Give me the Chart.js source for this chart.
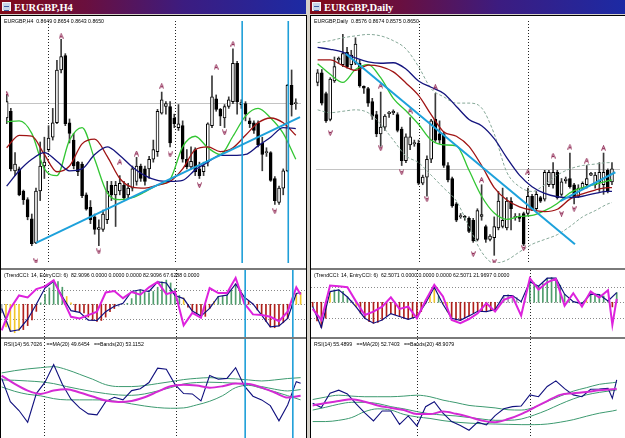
<!DOCTYPE html>
<html>
<head>
<meta charset="utf-8">
<script src="https://cdn.jsdelivr.net/npm/chart.js@4.4.1/dist/chart.umd.min.js"></script>
<style>
  body { margin: 0; width: 625px; height: 438px; overflow: hidden; position: relative; background: #d4d0c8; }
  .title { position: absolute; top: 0; height: 14px; color: #fff; font: bold 10.5px "Liberation Serif", serif; line-height: 15px; padding-left: 14px; box-sizing: border-box;
           background: linear-gradient(90deg, #800a18 0%, #6a0f3e 28%, #3c1c80 60%, #1c2aa4 100%); }
  .icon { position: absolute; left: 2px; top: 2px; width: 9px; height: 9px; background: #c8d6e6; border: 1px solid #f4f4f4; box-sizing: border-box; }
  .icon::after { content: ""; position: absolute; left: 1px; top: 3px; width: 5px; height: 3px; border-top: 1px solid #4060a0; border-bottom: 1px solid #4060a0; }
  .pane { position: absolute; background: #fff; overflow: hidden; }
  .pane canvas { position: absolute; left: 0; top: 0; }
  .lbl { position: absolute; left: 3px; top: 2px; font: 5.2px "Liberation Sans", Arial, sans-serif; color: #000; white-space: pre; z-index: 2; }
  .rule { position: absolute; background: #000; }
  .sep { position: absolute; background: #7a7a7a; }
</style>
</head>
<body>
<div class="title" style="left:0;width:306px"><div class="icon"></div>EURGBP,H4</div>
<div class="title" style="left:310px;width:315px"><div class="icon"></div>EURGBP,Daily</div>
<div class="rule" style="left:0;top:15px;width:307px;height:1px"></div>
<div class="rule" style="left:310px;top:15px;width:315px;height:1px"></div>
<div class="rule" style="left:0;top:15px;width:1px;height:423px"></div>
<div class="rule" style="left:306px;top:15px;width:1px;height:423px"></div>
<div class="rule" style="left:310px;top:15px;width:1px;height:423px"></div>
<div class="sep" style="left:1px;top:268px;width:305px;height:2px"></div>
<div class="sep" style="left:1px;top:337px;width:305px;height:2px"></div>
<div class="sep" style="left:311px;top:268px;width:314px;height:2px"></div>
<div class="sep" style="left:311px;top:337px;width:314px;height:2px"></div>
<script>
// ---------- EURGBP H4 (left) ----------
const leftOpen  = [.8634,.8641,.8579,.8581,.8558,.8549,.8529,.8504,.8558,.8584, .8601,.8614,.8629,.8684,.8699,.8629,.8611,.8588,.8586,.8554,
                   .8541,.8531,.8518,.8518,.8528,.8564,.8554,.8558,.8564,.8554, .8561,.8568,.8584,.8581,.8581,.8591,.8599,.8639,.8646,.8646,
                   .8634,.8624,.8626,.8591,.8583,.8601,.8581,.8578,.8588,.8626, .8654,.8643,.8634,.8646,.8651,.8691,.8648,.8649,.8631,.8629,
                   .8629,.8608,.8598,.8598,.8571,.8546,.8561,.8579,.8668,.8649];
const leftHigh  = [.8658,.8644,.8598,.8583,.8559,.8551,.8534,.8561,.8609,.8614, .8626,.8644,.8694,.8716,.8701,.8633,.8618,.8589,.8588,.8556,
                   .8548,.8534,.8528,.8538,.8568,.8568,.8568,.8574,.8568,.8566, .8584,.8593,.8586,.8584,.8594,.8611,.8643,.8661,.8651,.8651,
                   .8638,.8648,.8631,.8601,.8604,.8603,.8588,.8588,.8629,.8678, .8658,.8644,.8648,.8656,.8706,.8693,.8653,.8651,.8634,.8631,
                   .8631,.8614,.8603,.8599,.8573,.8563,.8581,.8669,.8684,.8654];
const leftLow   = [.8628,.8579,.8574,.8553,.8544,.8528,.8501,.8503,.8548,.8571, .8599,.8611,.8628,.8681,.8626,.8608,.8581,.8574,.8551,.8538,
                   .8524,.8513,.8501,.8516,.8524,.8548,.8521,.8554,.8549,.8551, .8558,.8564,.8568,.8564,.8571,.8588,.8594,.8638,.8638,.8604,
                   .8624,.8621,.8588,.8581,.8581,.8574,.8571,.8574,.8584,.8624, .8641,.8626,.8624,.8644,.8649,.8638,.8644,.8631,.8624,.8618,
                   .8604,.8579,.8594,.8568,.8544,.8544,.8554,.8578,.8636,.8643];
const leftClose = [.8651,.8581,.8586,.8554,.8549,.8531,.8503,.8558,.8584,.8588, .8613,.8629,.8684,.8698,.8628,.8618,.8584,.8578,.8553,.8539,
                   .8528,.8518,.8520,.8534,.8558,.8554,.8564,.8566,.8551,.8561, .8581,.8584,.8571,.8568,.8591,.8601,.8641,.8653,.8649,.8608,
                   .8628,.8628,.8591,.8583,.8589,.8578,.8574,.8584,.8628,.8656, .8643,.8636,.8646,.8653,.8691,.8651,.8650,.8638,.8628,.8621,
                   .8606,.8596,.8599,.8569,.8548,.8561,.8579,.8668,.8648,.8650];

const leftMaX     = [0,3,6,9,12,15,18,21,24,27,30,33,36,39,42,45,48,51,54,57,60,63,66,69];
const leftMaGreen = [.8630,.8631,.8618,.8581,.8574,.8611,.8624,.8591,.8556,.8549,.8551,.8557,.8564,.8570,.8604,.8615,.8603,.8596,.8615,.8636,.8644,.8634,.8618,.8591];
const leftMaRed   = [.8603,.8616,.8615,.8596,.8578,.8584,.8607,.8612,.8594,.8571,.8562,.8561,.8564,.8568,.8581,.8601,.8604,.8599,.8603,.8616,.8629,.8634,.8629,.8616];
const leftMaNavy  = [.8563,.8579,.8591,.8598,.8589,.8579,.8581,.8596,.8604,.8595,.8583,.8574,.8569,.8568,.8569,.8580,.8588,.8595,.8595,.8596,.8605,.8614,.8624,.8623];

const leftTrendX = [7, 70];
const leftTrendY = [.8504, .8635];
const leftFracUpX = [0, 13, 27, 31, 37, 50, 54];
const leftFracUpY = [.8659, .8719, .8588, .8597, .8667, .8687, .8711];
const leftFracDnX = [7, 22, 39, 46, 52, 64];
const leftFracDnY = [.8485, .8495, .8596, .8564, .8619, .8537];
const leftBid = .8650;
const leftCyan = [56.2, 67.2];
const leftGrid = [9.85, 40.2];

const leftCciX = [0,2,4,6,8,10,12,14,16,18,20,22,24,26,28,30,32,34,36,38,40,42,44,46,48,50,52,54,56,58,60,62,64,66,68,69];
const leftTrendCci = [-30,-190,-179,-105,0,114,162,55,-45,-57,-112,-114,-52,-14,7,90,102,90,157,150,62,40,-48,-83,-29,55,64,143,50,2,-76,-159,-152,-100,76,83];
const leftEntryCci = [-183,-29,62,48,107,126,169,43,-88,-100,-76,-52,83,93,43,86,67,119,157,71,90,-148,-60,-95,114,79,79,186,7,-71,-76,-88,-119,-52,119,68];
const leftHist = [-60,-160,-190,-200,-185,-178,-150,-110,-50,10, 70,115,150,160,120,55,10,-45,-55,-60,
                  -90,-112,-120,-114,-90,-52,-30,-14,0,7, 40,90,100,95,80,90,120,157,170,150,
                  110,62,45,-20,-48,-65,-83,-85,-29,20, 55,58,64,100,143,100,50,20,2,-40,
                  -76,-120,-159,-165,-152,-130,-100,-30,76,82.9];
const leftHistState = "nffffdddduuuuuuffddddddddddnnuuuuuuuuuuuuufddddddfuuuuuunddddddddddnff";

const leftRsiX = leftCciX;
const leftRsi = [59.5,46.2,41.1,34.4,50.8,57.3,67.4,56.1,47.6,42.6,39.2,38.6,46.2,48.7,47.2,52.5,53.6,57.1,65.3,64.7,56.1,50.8,50.6,46.6,61.1,59.0,59.5,65.6,55.2,49.3,47.2,43.9,35.2,44.3,57.6,56.7];
const leftRsiMa   = [61.1,56.3,52.5,50.6,52.5,53.3,51.4,49.1,46.8,46.0,46.6,48.7,51.9,55.0,55.9,55.4,54.2,55.0,56.5,56.3,54.2,51.4,48.5,49.6];
const leftBandUp  = [62.6,63.9,64.9,65.6,66.2,64.5,61.8,59.0,55.9,54.8,54.8,55.4,56.5,57.6,58.8,59.5,59.9,59.5,59.2,58.6,58.0,58.6,59.4,59.9];
const leftBandMid = [58.6,58.4,58.0,57.5,56.5,54.8,53.3,51.9,50.8,50.0,49.8,50.6,52.3,54.2,56.3,57.1,57.3,57.1,56.7,55.9,54.8,53.3,52.3,53.1];
const leftBandLow = [54.6,52.1,50.4,49.5,47.9,47.2,47.2,47.2,47.0,46.2,44.9,43.7,42.8,42.4,42.6,44.3,46.4,49.6,54.2,55.5,53.8,51.9,49.6,47.2];

// ---------- EURGBP Daily (right) ----------
const rightOpen  = [.8830,.8850,.8807,.8753,.8833,.8877,.8867,.8893,.8867,.8870, .8870,.8822,.8817,.8790,.8763,.8723,.8737,.8765,.8767,.8763,
                    .8733,.8667,.8700,.8702,.8703,.8620,.8633,.8670,.8753,.8723, .8723,.8657,.8630,.8577,.8550,.8551,.8547,.8543,.8503,.8551,
                    .8530,.8503,.8507,.8527,.8530,.8527,.8583,.8549,.8551,.8557, .8557,.8593,.8567,.8590,.8587,.8617,.8617,.8643,.8597,.8625,
                    .8630,.8617,.8593,.8610,.8617,.8637,.8617,.8623,.8617,.8647, .8623];
const rightHigh  = [.8857,.8857,.8810,.8840,.8883,.8883,.8930,.8903,.8897,.8923, .8877,.8823,.8820,.8797,.8770,.8810,.8763,.8770,.8773,.8767,
                    .8737,.8723,.8757,.8710,.8710,.8637,.8677,.8753,.8807,.8750, .8727,.8663,.8633,.8580,.8557,.8553,.8550,.8547,.8567,.8617,
                    .8533,.8513,.8550,.8603,.8610,.8590,.8590,.8557,.8557,.8560, .8610,.8597,.8603,.8593,.8647,.8647,.8663,.8647,.8630,.8633,
                    .8683,.8620,.8617,.8623,.8657,.8643,.8643,.8663,.8683,.8650, .8663];
const rightLow   = [.8823,.8783,.8747,.8750,.8830,.8870,.8863,.8860,.8857,.8867, .8820,.8807,.8780,.8753,.8717,.8697,.8730,.8757,.8763,.8727,
                    .8657,.8663,.8690,.8697,.8617,.8617,.8593,.8663,.8707,.8703, .8653,.8623,.8570,.8540,.8547,.8543,.8517,.8497,.8500,.8543,
                    .8497,.8500,.8470,.8523,.8527,.8523,.8523,.8543,.8540,.8490, .8553,.8563,.8563,.8580,.8583,.8613,.8610,.8587,.8593,.8620,
                    .8610,.8577,.8590,.8607,.8610,.8636,.8610,.8603,.8597,.8600, .8617];
const rightClose = [.8850,.8787,.8750,.8837,.8863,.8880,.8890,.8863,.8887,.8910, .8823,.8818,.8787,.8760,.8723,.8737,.8760,.8768,.8770,.8730,
                    .8667,.8717,.8717,.8705,.8620,.8633,.8670,.8750,.8710,.8710, .8657,.8627,.8573,.8543,.8553,.8549,.8520,.8500,.8563,.8555,
                    .8503,.8510,.8530,.8583,.8543,.8583,.8567,.8551,.8547,.8493, .8593,.8567,.8597,.8583,.8643,.8643,.8643,.8590,.8623,.8629,
                    .8613,.8590,.8610,.8620,.8630,.8641,.8637,.8643,.8643,.8603, .8650];

const rightMaX     = [0,3,6,9,12,15,18,21,24,27,30,33,36,39,42,45,48,51,54,57,60,63,66,69,70];
const rightMaNavy  = [.8903,.8899,.8893,.8881,.8873,.8870,.8871,.8858,.8833,.8820,.8807,.8780,.8753,.8740,.8713,.8673,.8637,.8613,.8599,.8592,.8590,.8593,.8599,.8603,.8603];
const rightMaRed   = [.8877,.8877,.8865,.8855,.8866,.8863,.8852,.8829,.8803,.8763,.8727,.8718,.8697,.8657,.8611,.8585,.8571,.8564,.8561,.8566,.8587,.8598,.8606,.8611,.8611];
const rightMaGreen = [.8869,.8847,.8830,.8857,.8867,.8840,.8797,.8771,.8743,.8710,.8700,.8698,.8647,.8593,.8558,.8545,.8551,.8553,.8563,.8578,.8600,.8611,.8618,.8625,.8627];
const rightBbUp    = [.8913,.8917,.8923,.8927,.8930,.8927,.8917,.8900,.8863,.8817,.8800,.8787,.8787,.8777,.8723,.8643,.8613,.8603,.8617,.8637,.8650,.8657,.8660,.8663,.8663];
const rightBbLow   = [.8773,.8767,.8770,.8773,.8767,.8743,.8710,.8677,.8663,.8637,.8610,.8583,.8530,.8477,.8453,.8460,.8477,.8493,.8503,.8513,.8530,.8550,.8563,.8577,.8580];

const rightTrendX  = [6.7, 61.2];
const rightTrendY  = [.8890, .8493];
const rightTrend2X = [57.7, 70.8];
const rightTrend2Y = [.8583, .8643];
const rightFracUpX = [15, 22, 28, 39, 50, 56, 60, 64, 68];
const rightFracUpY = [.8823, .8771, .8820, .8627, .8643, .8677, .8695, .8667, .8693];
const rightFracDnX = [3, 15, 20, 26, 37, 42, 49, 58, 61];
const rightFracDnY = [.8725, .8693, .8643, .8587, .8473, .8457, .8485, .8557, .8567];
const rightBid = .8650;
const rightGrid = [24.1, 50.0];

const rightCciX   = [0,2,4,6,8,10,12,14,16,18,20,22,24,26,28,30,32,34,36,38,40,42,44,46,48,50,52,54,56,58,60,62,64,66,68,70];
const rightTrendCci = [-28,-163,69,80,34,-30,-103,-135,-114,-73,-92,-110,-92,-6,97,-13,-103,-116,-88,-58,-60,-47,43,43,4,133,103,155,155,52,4,-9,52,49,9,62.5];
const rightEntryX = [0,2,4,6,8,10,12,14,16,18,20,22,24,26,28,30,32,34,36,38,40,42,44,46,48,50,52,54,56,58,60,62,64,66,68,69,70];
const rightEntryCci = [-43,-114,108,103,97,4,-82,-60,-28,32,-43,-28,-103,11,112,37,-114,-135,-108,-71,-6,-60,15,37,-86,155,82,129,151,-22,58,-28,69,30,77,-146,22];
const rightHist = [-28,-120,-163,-103,69,80,80,70,34,10, -30,-70,-103,-125,-135,-130,-114,-90,-73,-80,
                   -92,-105,-110,-100,-92,-60,-6,60,97,40, -13,-60,-103,-116,-116,-100,-88,-70,-58,-55,
                   -60,-55,-47,0,43,50,43,30,4,4, 133,125,103,120,155,160,155,110,52,20,
                   4,-5,-9,20,52,55,49,40,9,-30, 62.5];
const rightHistState = "ddddfuuuunfddddddddddddddddffuffdddddddddddnnnnnnnuuuuuuuuuuuuufuuuuudu";

const rightRsiX = rightEntryX;
const rightRsi = [48.0,46.6,51.2,52.2,51.0,47.8,44.9,42.3,45.5,45.5,41.2,43.9,40.7,46.9,48.5,44.8,42.1,40.8,39.3,41.9,41.0,44.0,46.2,46.9,47.1,50.7,50.1,53.4,55.2,52.7,50.7,50.1,52.5,52.6,52.8,49.6,55.5];
const rightRsiMa   = [47.3,48.1,48.7,49.3,48.5,47.3,46.5,45.8,44.5,44.5,45.3,44.6,43.6,42.4,41.9,42.9,44.5,46.6,48.7,50.7,51.2,51.6,52.2,52.5,52.7];
const rightBandUp  = [49.2,50.0,50.6,50.3,50.1,50.1,50.1,50.3,50.6,50.1,49.0,48.2,47.3,46.9,46.5,45.9,45.8,46.7,48.6,50.3,51.9,53.0,54.1,54.6,54.8];
const rightBandMid = [45.8,46.7,47.7,48.3,48.3,47.9,46.9,46.2,45.3,44.6,44.2,43.9,43.4,42.9,42.5,42.5,42.9,44.2,45.8,47.7,49.4,50.7,51.5,52.1,52.3];
const rightBandLow = [42.1,42.1,42.5,43.4,45.3,46.2,45.8,44.4,43.6,43.1,42.4,41.9,41.6,41.4,41.3,41.2,41.1,41.1,41.3,41.9,42.7,43.8,44.8,45.5,45.8];

const cciLevels = [-100, 0, 100];

// ---------- drawing ----------
const pts = (xs, ys) => ys.map((v, i) => ({ x: xs[i], y: v }));
const stateColor = { u: '#4f9c6c', d: '#b0201c', f: '#f2c62a', n: '#9aa4ae' };

function glyph(up) {
  const c = document.createElement('canvas');
  c.width = 5; c.height = 6;
  const g = c.getContext('2d');
  g.strokeStyle = '#8a1e4c';
  g.lineWidth = 1;
  g.beginPath();
  if (up) { g.moveTo(0.5, 5.5); g.lineTo(2.5, 0.5); g.lineTo(4.5, 5.5); g.moveTo(1.5, 3.5); g.lineTo(3.5, 3.5); }
  else    { g.moveTo(0.5, 0.5); g.lineTo(2.5, 5.5); g.lineTo(4.5, 0.5); g.moveTo(1.5, 2.5); g.lineTo(3.5, 2.5); }
  g.stroke();
  return c;
}
const upGlyph = glyph(true), dnGlyph = glyph(false);

// grid, level and marker lines drawn through the chart's own scales
const marks = {
  id: 'marks',
  beforeDatasetsDraw(chart, args, o) {
    const { ctx, chartArea: a, scales: { x, y } } = chart;
    ctx.save();
    ctx.lineWidth = 1;
    (o.hlines || []).forEach(v => {
      const py = Math.round(y.getPixelForValue(v)) + 0.5;
      ctx.strokeStyle = o.hcolor; ctx.setLineDash(o.hdash || []);
      ctx.beginPath(); ctx.moveTo(a.left, py); ctx.lineTo(a.right, py); ctx.stroke();
    });
    (o.grid || []).forEach(v => {
      const px = Math.round(x.getPixelForValue(v)) + 0.5;
      ctx.strokeStyle = '#222'; ctx.setLineDash([1, 2]);
      ctx.beginPath(); ctx.moveTo(px, a.top); ctx.lineTo(px, a.bottom); ctx.stroke();
    });
    ctx.restore();
  },
  afterDatasetsDraw(chart, args, o) {
    const { ctx, chartArea: a, scales: { x } } = chart;
    ctx.save();
    ctx.strokeStyle = '#1e9fd8'; ctx.lineWidth = 1.6;
    (o.vlines || []).forEach(v => {
      const px = x.getPixelForValue(v);
      ctx.beginPath(); ctx.moveTo(px, a.top); ctx.lineTo(px, a.bottom); ctx.stroke();
    });
    ctx.restore();
  }
};

const L = { left: 1,   width: 305, xMin: -0.155, xMax: 70.24 };
const R = { left: 311, width: 314, xMin: -0.384, xMax: 71.91 };

function pane(side, top, height, yMin, yMax, datasets, markOpts, label) {
  const box = document.createElement('div');
  box.className = 'pane';
  box.style.cssText = `left:${side.left}px;top:${top}px;width:${side.width}px;height:${height}px`;
  const cv = document.createElement('canvas');
  cv.width = side.width; cv.height = height;
  cv.style.width = side.width + 'px'; cv.style.height = height + 'px';
  box.appendChild(cv);
  const t = document.createElement('div');
  t.className = 'lbl'; t.textContent = label;
  box.appendChild(t);
  document.body.appendChild(box);
  new Chart(cv, {
    type: 'bar',
    data: { datasets },
    options: {
      responsive: false, animation: false, devicePixelRatio: 1, events: [],
      layout: { padding: 0 },
      plugins: { legend: { display: false }, tooltip: { enabled: false }, marks: markOpts },
      scales: {
        x: { type: 'linear', display: false, min: side.xMin, max: side.xMax, offset: false },
        y: { type: 'linear', display: false, min: yMin, max: yMax }
      }
    },
    plugins: [marks]
  });
}

const line = (data, color, width, order, extra) => Object.assign({
  type: 'line', data, borderColor: color, borderWidth: width, pointRadius: 0, fill: false, order
}, extra || {});
const smooth = { cubicInterpolationMode: 'monotone' };

function priceSets(o, h, l, c) {
  return [
    { type: 'bar', data: o.map((v, i) => ({ x: i, y: [l[i], h[i]] })), grouped: false, barThickness: 1,
      backgroundColor: '#3a3a3a', order: 9 },
    { type: 'bar', data: o.map((v, i) => ({ x: i, y: [v, c[i]] })), grouped: false, barThickness: 3, minBarLength: 1,
      backgroundColor: o.map((v, i) => c[i] >= v ? '#ffffff' : '#000000'), borderColor: '#000', borderWidth: 1,
      borderSkipped: false, order: 8 }
  ];
}
const fractals = (ux, uy, dx, dy) => [
  { type: 'line', showLine: false, data: pts(ux, uy), pointStyle: upGlyph, order: 1 },
  { type: 'line', showLine: false, data: pts(dx, dy), pointStyle: dnGlyph, order: 1 }
];
const hist = (vals, states) => ({
  type: 'bar', data: vals.map((v, i) => ({ x: i, y: v })), grouped: false, barThickness: 1,
  backgroundColor: vals.map((v, i) => stateColor[states[i]] || stateColor.n), order: 5
});

// left H4
pane(L, 16, 252, .8483, .8735, [
  ...priceSets(leftOpen, leftHigh, leftLow, leftClose),
  line(pts(leftMaX, leftMaGreen), '#33c633', 1.3, 4, smooth),
  line(pts(leftMaX, leftMaRed), '#a01414', 1.3, 3, smooth),
  line(pts(leftMaX, leftMaNavy), '#14147e', 1.3, 2, smooth),
  line(pts(leftTrendX, leftTrendY), '#1da1db', 2, 0),
  ...fractals(leftFracUpX, leftFracUpY, leftFracDnX, leftFracDnY)
], { hlines: [leftBid], hcolor: '#c4c4c4', grid: leftGrid, vlines: leftCyan },
'EURGBP,H4  0.8649 0.8654 0.8643 0.8650');

pane(L, 270, 67, -230, 241, [
  hist(leftHist, leftHistState),
  line(pts(leftCciX, leftTrendCci), '#10107e', 1.2, 1),
  line(pts(leftCciX, leftEntryCci), '#dd22dd', 2, 0)
], { hlines: cciLevels, hcolor: '#8a8a8a', hdash: [1, 2], grid: leftGrid, vlines: leftCyan },
'(TrendCCI: 14, EntryCCI: 6)  82.9096 0.0000 0.0000 0.0000 82.9096 67.6288 0.0000');

pane(L, 339, 99, 25.4, 82.0, [
  line(pts(leftMaX, leftBandUp), '#3d9a70', 1, 3, smooth),
  line(pts(leftMaX, leftBandMid), '#3d9a70', 1, 3, smooth),
  line(pts(leftMaX, leftBandLow), '#3d9a70', 1, 3, smooth),
  line(pts(leftRsiX, leftRsi), '#10107e', 1.1, 1),
  line(pts(leftMaX, leftRsiMa), '#d42ad4', 2, 0, smooth)
], { grid: leftGrid, vlines: leftCyan },
'RSI(14) 56.7026   ==MA(20) 49.6454   ==Bands(20) 53.1152');

// right Daily
pane(R, 16, 252, .8454, .8958, [
  ...priceSets(rightOpen, rightHigh, rightLow, rightClose),
  line(pts(rightMaX, rightBbUp), '#86a898', 1, 6, Object.assign({ borderDash: [3, 2] }, smooth)),
  line(pts(rightMaX, rightBbLow), '#86a898', 1, 6, Object.assign({ borderDash: [3, 2] }, smooth)),
  line(pts(rightMaX, rightMaGreen), '#33c633', 1.3, 4, smooth),
  line(pts(rightMaX, rightMaRed), '#a01414', 1.3, 3, smooth),
  line(pts(rightMaX, rightMaNavy), '#14147e', 1.3, 2, smooth),
  line(pts(rightTrendX, rightTrendY), '#1da1db', 2, 0),
  line(pts(rightTrend2X, rightTrend2Y), '#1da1db', 2, 0),
  ...fractals(rightFracUpX, rightFracUpY, rightFracDnX, rightFracDnY)
], { hlines: [rightBid], hcolor: '#c4c4c4', grid: rightGrid },
'EURGBP,Daily  0.8576 0.8674 0.8575 0.8650');

pane(R, 270, 67, -224, 208, [
  hist(rightHist, rightHistState),
  line(pts(rightCciX, rightTrendCci), '#10107e', 1.2, 1),
  line(pts(rightEntryX, rightEntryCci), '#dd22dd', 2, 0)
], { hlines: cciLevels, hcolor: '#8a8a8a', hdash: [1, 2], grid: rightGrid },
'(TrendCCI: 14, EntryCCI: 6)  62.5071 0.0000 0.0000 0.0000 62.5071 21.9697 0.0000');

pane(R, 339, 99, 36.8, 68.7, [
  line(pts(rightMaX, rightBandUp), '#3d9a70', 1, 3, smooth),
  line(pts(rightMaX, rightBandMid), '#3d9a70', 1, 3, smooth),
  line(pts(rightMaX, rightBandLow), '#3d9a70', 1, 3, smooth),
  line(pts(rightRsiX, rightRsi), '#10107e', 1.1, 1),
  line(pts(rightMaX, rightRsiMa), '#d42ad4', 2, 0, smooth)
], { grid: rightGrid },
'RSI(14) 55.4899   ==MA(20) 52.7403   ==Bands(20) 48.9079');
</script>
</body>
</html>
